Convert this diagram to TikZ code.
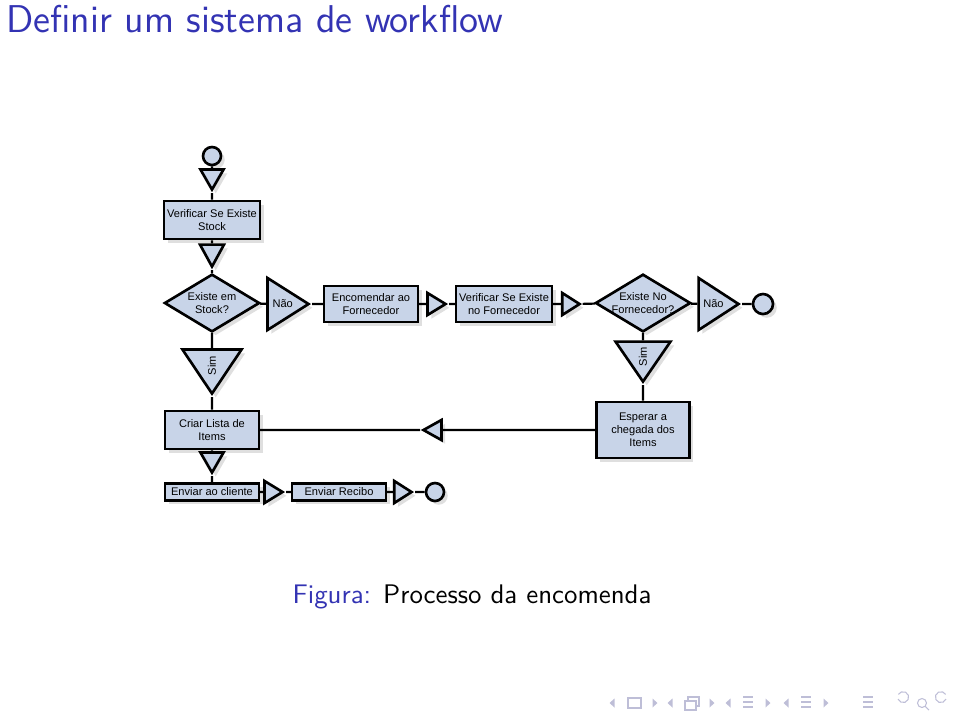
\documentclass[tikz,border=0pt]{standalone}
\usepackage{fontspec}
\usetikzlibrary{shapes.geometric,shadows}
\newfontfamily\flowfont{Liberation Sans}
\definecolor{beamblue}{RGB}{51,51,179}
\definecolor{flowfill}{RGB}{200,212,232}
\definecolor{navcol}{RGB}{190,190,215}

\begin{document}
\begin{tikzpicture}[x=0.13333mm,y=-0.13333mm,
  shad/.style={drop shadow={shadow xshift=0.5mm,shadow yshift=-0.5mm,opacity=0.25}},
  proc/.style={draw,rectangle,fill=flowfill,line width=1pt,minimum width=12.5mm,minimum height=5.07mm,
    inner sep=0.4mm,align=center,font=\flowfont\fontsize{4.2}{4.9}\selectfont,shad},
  dec/.style={draw,diamond,aspect=1.64,fill=flowfill,line width=1pt,minimum width=12.7mm,minimum height=7.7mm,
    inner sep=-0.2mm,align=center,font=\flowfont\fontsize{4.2}{4.9}\selectfont,shad},
  tri/.style={draw,isosceles triangle,isosceles triangle stretches,fill=flowfill,line width=1pt,
    inner sep=0pt,font=\flowfont\fontsize{4.2}{4.9}\selectfont,shad},
  term/.style={draw,circle,fill=flowfill,line width=1pt,inner sep=0pt,shad},
  flow/.style={line width=0.8pt}]
  \useasboundingbox (0,0) rectangle (960,718);

  % title and caption
  \node[anchor=base west,inner sep=0,text=beamblue,font=\sffamily\fontsize{14.7}{17}\selectfont] at (6,32) (TT)
    {Definir um sistema de workflow};
  \node[anchor=base west,inner sep=0,font=\sffamily\fontsize{10.2}{12.5}\selectfont] at (292,603) (CP)
    {\textcolor{beamblue}{Figura:} Processo da encomenda};

  % stock branch (min height = base, min width = axis)
  \node[term,minimum size=2.4mm] at (212,156) (ST) {};
  \node[tri,rotate=-90,minimum height=2.67mm,minimum width=3.07mm,anchor=apex] at (212,193) (T0) {};
  \node[proc] at (212,220) (VS) {Verificar Se Existe\\Stock};
  \node[tri,rotate=-90,minimum height=2.93mm,minimum width=3.2mm,anchor=apex] at (212,270) (T1) {};
  \node[dec] at (212,303) (D1) {Existe em\\Stock?};
  \node[tri,minimum height=5.47mm,minimum width=6.93mm,anchor=apex] at (312,304) (N1) {Não};
  \node[proc,minimum height=4.8mm] at (371,304) (EF) {Encomendar ao\\Fornecedor};
  \node[tri,minimum height=2.4mm,minimum width=2.93mm,anchor=apex] at (449,304) (T2) {};
  \node[proc,minimum height=4.8mm] at (504,304) (VF) {Verificar Se Existe\\no Fornecedor};
  \node[tri,minimum height=2.3mm,minimum width=2.93mm,anchor=apex] at (583,304) (T3) {};
  \node[dec] at (643,303) (D2) {Existe No\\Fornecedor?};
  \node[tri,minimum height=5.33mm,minimum width=6.93mm,anchor=apex] at (742,304) (N2) {Não};
  \node[term,minimum size=2.67mm] at (763,304) (E1) {};

  % sim branches
  \node[tri,shape border rotate=180,rotate=90,minimum height=5.87mm,minimum width=7.87mm,anchor=apex]
    at (212,397) (S1) {Sim};
  \node[tri,shape border rotate=180,rotate=90,minimum height=5.33mm,minimum width=7.33mm,anchor=apex]
    at (643,385) (S2) {Sim};
  \node[proc] at (212,430) (CL) {Criar Lista de\\Items};
  \node[proc,minimum width=12.4mm,minimum height=7.47mm] at (643,430) (EC) {Esperar a\\chegada dos\\Items};
  \node[tri,rotate=180,minimum height=2.4mm,minimum width=2.67mm,anchor=apex] at (420,430) (TB) {};

  % sending
  \node[tri,rotate=-90,minimum height=2.67mm,minimum width=3.07mm,anchor=apex] at (212,476) (T4) {};
  \node[proc,minimum height=2.27mm] at (212,492) (EV) {Enviar ao cliente};
  \node[tri,minimum height=2.4mm,minimum width=2.93mm,anchor=apex] at (286,492) (T5) {};
  \node[proc,minimum height=2.27mm] at (339,492) (ER) {Enviar Recibo};
  \node[tri,minimum height=2.3mm,minimum width=2.93mm,anchor=apex] at (415,492) (T6) {};
  \node[term,minimum size=2.4mm] at (435,492) (E2) {};

  \draw[flow] (ST) -- (T0) -- (VS) -- (T1) -- (D1) -- (N1) -- (EF) -- (T2) -- (VF) -- (T3) -- (D2) -- (N2) -- (E1);
  \draw[flow] (D1) -- (S1) -- (CL) -- (T4) -- (EV) -- (T5) -- (ER) -- (T6) -- (E2);
  \draw[flow] (D2) -- (S2) -- (EC) -- (TB) -- (CL);

  % navigation symbols
  \begin{scope}[navcol,line width=0.4pt]
    \foreach \x in {612,670,728,786} \fill (\x+2.5,698.5) -- (\x-2.5,703) -- (\x+2.5,707.5) -- cycle;
    \foreach \x in {655,712,768,826} \fill (\x-2.5,698.5) -- (\x+2.5,703) -- (\x-2.5,707.5) -- cycle;
    \draw (628,698) rectangle (641,708);
    \draw (685,701) rectangle (696,710) (688,701) -- (688,697) -- (699,697) -- (699,706) -- (696,706);
    \foreach \x in {748,806,868} \draw (\x-5,697) -- (\x+5,697) (\x-5,702) -- (\x+5,702) (\x-5,707) -- (\x+5,707);
    \draw (898,699) arc (160:-150:5.5);
    \draw (922,703) circle (4.5) (925,706) -- (929,710);
    \draw (946,699) arc (20:330:5.5);
  \end{scope}
\end{tikzpicture}
\end{document}
